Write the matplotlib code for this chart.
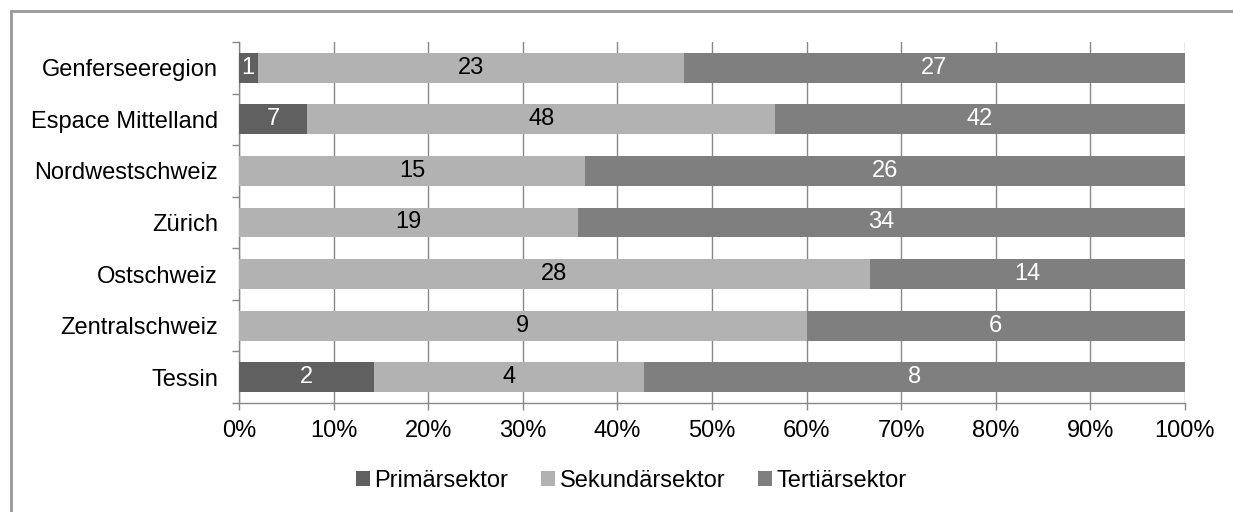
import numpy as np
import matplotlib
matplotlib.use("Agg")
from matplotlib import pyplot as plt
from matplotlib.lines import Line2D

plt.rcParams['font.family'] = ['Liberation Sans', 'DejaVu Sans']

regions = ["Genferseeregion", "Espace Mittelland", "Nordwestschweiz", "Zürich",
           "Ostschweiz", "Zentralschweiz", "Tessin"]
primaer = [1, 7, 0, 0, 0, 0, 2]
sekundaer = [23, 48, 15, 19, 28, 9, 4]
tertiaer = [27, 42, 26, 34, 14, 6, 8]
series_names = ["Primärsektor", "Sekundärsektor", "Tertiärsektor"]
colors = ["#606060", "#b2b2b2", "#7f7f7f"]
text_colors = ["white", "black", "white"]

def main():
    fig = plt.figure(figsize=(12.33, 5.12), dpi=100)
    ax = fig.add_axes([0.1938, 0.213, 0.961 - 0.1938, 0.705])

    data = np.array([primaer, sekundaer, tertiaer], dtype=float)
    totals = data.sum(axis=0)
    shares = data / totals * 100
    y = np.arange(len(regions))
    left = np.zeros(len(regions))
    handles = []
    for i in range(3):
        b = ax.barh(y, shares[i], left=left, height=0.58, color=colors[i],
                    label=series_names[i], zorder=3)
        handles.append(b)
        for j in range(len(regions)):
            if data[i, j] > 0:
                ax.text(left[j] + shares[i, j] / 2, y[j], "%d" % data[i, j],
                        ha="center", va="center", fontsize=17,
                        color=text_colors[i], zorder=4)
        left += shares[i]

    ax.set_xlim(0, 100)
    ax.set_ylim(len(regions) - 0.5, -0.5)
    ax.set_xticks(np.arange(0, 101, 10))
    ax.set_xticklabels(["%d%%" % v for v in range(0, 101, 10)], fontsize=17)
    ax.set_yticks(y)
    ax.set_yticklabels(regions, fontsize=17)
    ax.set_yticks(np.arange(-0.5, len(regions), 1), minor=True)
    ax.tick_params(axis="y", which="major", length=0, pad=15)
    ax.tick_params(axis="y", which="minor", length=5, color="#888888", width=1)
    ax.tick_params(axis="x", length=5, color="#888888", width=1, pad=7)
    ax.grid(axis="x", color="#888888", linewidth=1, zorder=0)
    for s in ["top", "right"]:
        ax.spines[s].set_visible(False)
    for s in ["left", "bottom"]:
        ax.spines[s].set_color("#888888")
        ax.spines[s].set_linewidth(1)

    fig.legend(handles=handles, loc="center", bbox_to_anchor=(0.512, 0.0605),
               ncol=3, frameon=False, fontsize=17, handlelength=0.6,
               handleheight=0.6, handletextpad=0.17, columnspacing=1.4,
               borderaxespad=0, borderpad=0)

    # outer frame (only top and left visible in the picture)
    fig.add_artist(Line2D([0.009, 0.009], [0.0, 0.979], color="#999999", lw=2))
    fig.add_artist(Line2D([0.009, 1.0], [0.979, 0.979], color="#999999", lw=2))

    fig.savefig("out.png", dpi=100)

if __name__ == '__main__':
    main()
